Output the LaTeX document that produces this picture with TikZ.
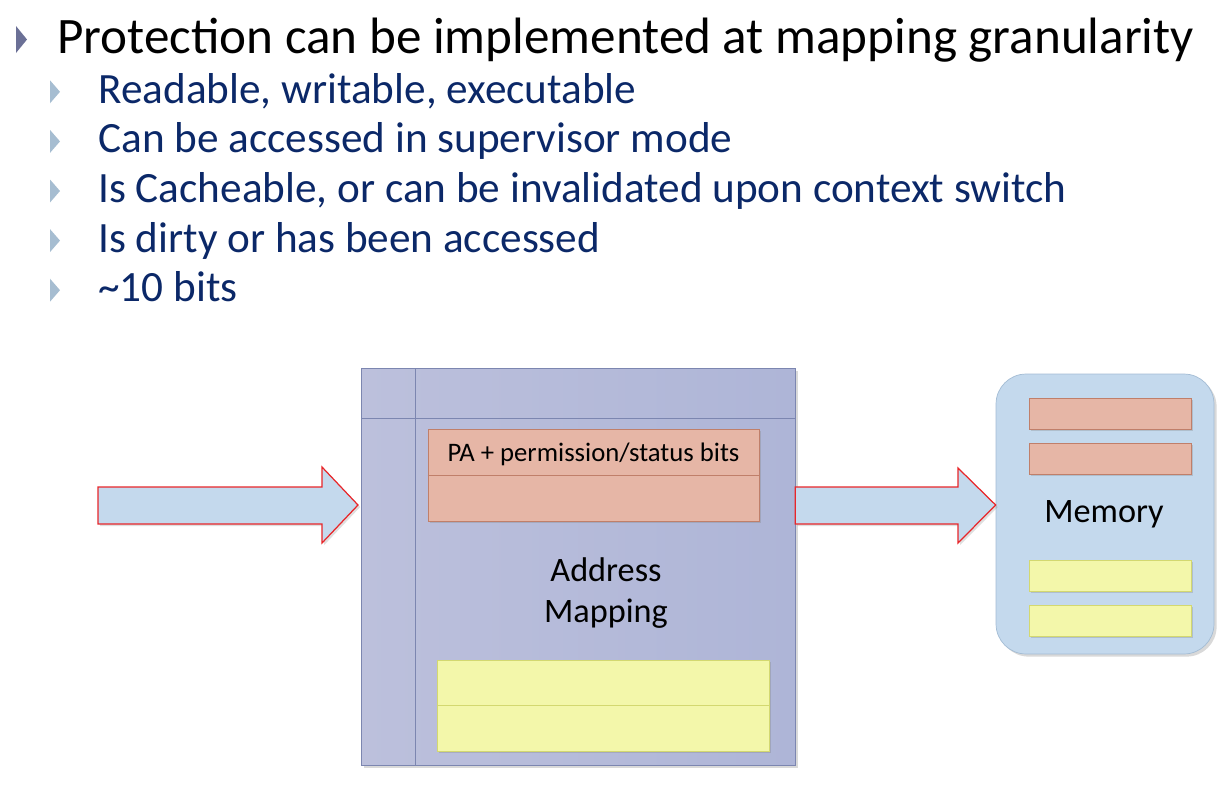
\documentclass[tikz,border=0pt]{standalone}
\usepackage{fontspec}
\setmainfont{Carlito}
\usetikzlibrary{calc,positioning,shadows}
\definecolor{navy}{HTML}{0B2868}
\definecolor{bulletdark}{HTML}{6B7096}
\definecolor{bulletlight}{HTML}{A6BDD1}
\definecolor{mapline}{HTML}{7C86B0}
\definecolor{mapleft}{HTML}{BCC0DC}
\definecolor{mapmid}{HTML}{A0A9D0}
\definecolor{mapright}{HTML}{AEB5D7}
\definecolor{pteline}{HTML}{C07F6A}
\definecolor{pteside}{HTML}{E6B6A6}
\definecolor{ptemid}{HTML}{DC9F8B}
\definecolor{freeline}{HTML}{D3D870}
\definecolor{freeside}{HTML}{F3F7AA}
\definecolor{freemid}{HTML}{EFF98A}
\definecolor{memline}{HTML}{A3BCD4}
\definecolor{memside}{HTML}{C4D9ED}
\definecolor{memmid}{HTML}{B1CEE8}
\definecolor{arrowred}{HTML}{E8262A}

\begin{document}
\begin{tikzpicture}[x=0.02cm,y=-0.02cm,
  headline/.style={anchor=base west,inner sep=0pt,text=black,
                   font=\fontsize{29.1}{34}\selectfont},
  subline/.style={anchor=base west,inner sep=0pt,text=navy,
                  font=\fontsize{24.6}{29}\selectfont},
  mapbox/.style={draw=mapline,left color=mapleft,middle color=mapmid,right color=mapright,
                 minimum width=8.68cm,minimum height=7.94cm,inner sep=0pt,
                 drop shadow={opacity=0.3,shadow xshift=1.5pt,shadow yshift=-1.5pt}},
  ptebox/.style={draw=pteline,left color=pteside,middle color=ptemid,right color=pteside,
                 minimum width=6.62cm,minimum height=1.84cm,inner sep=0pt,
                 drop shadow={opacity=0.3,shadow xshift=1.2pt,shadow yshift=-1.2pt}},
  freebox/.style={draw=freeline,left color=freeside,middle color=freemid,right color=freeside,
                  minimum width=6.64cm,minimum height=1.82cm,inner sep=0pt,
                  drop shadow={opacity=0.3,shadow xshift=1.2pt,shadow yshift=-1.2pt}},
  membox/.style={draw=memline,left color=memside,middle color=memmid,right color=memside,
                 rounded corners=0.6cm,minimum width=4.36cm,minimum height=5.6cm,inner sep=0pt,
                 drop shadow={opacity=0.3,shadow xshift=1.5pt,shadow yshift=-1.5pt}},
  membar/.style={minimum width=3.24cm,minimum height=0.62cm,inner sep=0pt,
                 drop shadow={opacity=0.3,shadow xshift=1pt,shadow yshift=-1pt}},
  blockarrow/.style={draw=arrowred,line width=0.7pt,left color=memside,middle color=memmid,
                     right color=memside,
                     drop shadow={opacity=0.25,shadow xshift=1.2pt,shadow yshift=-1.2pt}},
  label/.style={font=\fontsize{19.5}{23.2}\selectfont,align=center,inner sep=0pt}
]
  \useasboundingbox (0,0) rectangle (1232,802);

  % bullet text
  \fill[bulletdark] (16,26) -- (27,39.5) -- (16,53) -- cycle;
  \node[headline] (title) at (57,53) {Protection can be implemented at mapping granularity};
  \foreach \txt [count=\i] in {{Readable, writable, executable},
      {Can be accessed in supervisor mode},
      {Is Cacheable, or can be invalidated upon context switch},
      {Is dirty or has been accessed},
      {\textasciitilde10 bits}}{
    \fill[bulletlight] (50,{103.3+49.6*(\i-1)-23}) -- (60,{103.3+49.6*(\i-1)-11.5})
                       -- (50,{103.3+49.6*(\i-1)}) -- cycle;
    \node[subline] (item\i) at (98,{103.3+49.6*(\i-1)}) {\txt};
  }

  % address mapping
  \node[mapbox] (map) at (578,566.5) {};
  \draw[mapline] (415,368) -- (415,765);
  \draw[mapline] (361,418) -- (795,418);
  \node[ptebox] (pte) at (593.5,475) {};
  \draw[pteline] (pte.west) -- (pte.east);
  \node[font=\fontsize{15.2}{18}\selectfont,inner sep=0pt] (ptetext) at (593.5,454)
    {PA + permission/status bits};
  \node[freebox] (free) at (603,705.5) {};
  \draw[freeline] (free.west) -- (free.east);
  \node[label] (maptext) at (606,593) {Address\\Mapping};

  % memory
  \node[membox] (mem) at (1105,514) {};
  \node[membar,draw=pteline,left color=pteside,middle color=ptemid,right color=pteside]
    (page1) at (1110,413.5) {};
  \node[membar,draw=pteline,left color=pteside,middle color=ptemid,right color=pteside]
    (page2) at (1110,458.5) {};
  \node[membar,draw=freeline,left color=freeside,middle color=freemid,right color=freeside]
    (page3) at (1110,575.5) {};
  \node[membar,draw=freeline,left color=freeside,middle color=freemid,right color=freeside]
    (page4) at (1110,620.5) {};
  \node[label] (memtext) at (1104,514) {Memory};

  % arrows
  \draw[blockarrow] (98,487) -- (322,487) -- (322,467) -- (358,505)
    -- (322,543) -- (322,524) -- (98,524) -- cycle;
  \draw[blockarrow] (map.east |- 0,487) -- (958,487) -- (958,468) -- (mem.west |- 0,505)
    -- (958,543) -- (958,524) -- (map.east |- 0,524) -- cycle;
\end{tikzpicture}
\end{document}
